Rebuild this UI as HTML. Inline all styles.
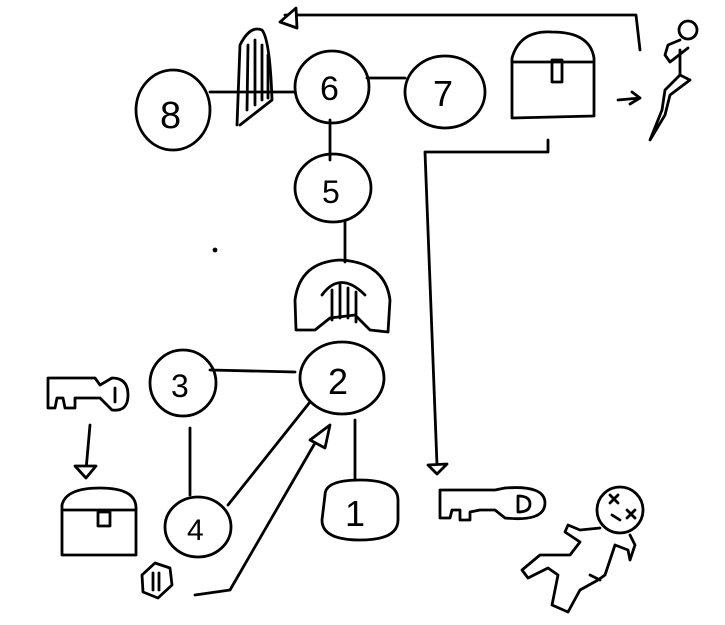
<!DOCTYPE html>
<html><head><meta charset="utf-8"><style>
html,body{margin:0;padding:0;background:#fff;width:725px;height:625px;overflow:hidden}
svg{display:block}
text{font-family:"Liberation Sans",sans-serif;fill:#000;stroke:none}
</style></head><body>
<svg width="725" height="625" viewBox="0 0 725 625" fill="none" stroke="#000" stroke-width="2.8" stroke-linecap="round" stroke-linejoin="round">
<path d="M640 50 L636 15 L285 15"/>
<path d="M296 8 L280 22 L297 28 Z" fill="#fff"/>
<ellipse cx="173" cy="110" rx="37" ry="40"/>
<text x="160" y="128" font-size="38">8</text>
<path d="M237 125 L240 45 Q250 25 262 30 Q270 40 272 100 L240 125"/>
<path d="M248 45 L247 110 M255 40 L255 105 M262 45 L262 100 M268 55 L268 98"/>
<path d="M210 92 L295 92"/>
<ellipse cx="332" cy="87" rx="37" ry="36"/>
<text x="320" y="100" font-size="34">6</text>
<path d="M367 78 L405 78"/>
<ellipse cx="445" cy="92" rx="40" ry="36"/>
<text x="433" y="106" font-size="36">7</text>
<path d="M512 118 L512 58 Q520 30 552 32 Q590 32 594 58 L594 116 Z"/>
<path d="M512 62 L594 62"/>
<rect x="552" y="60" width="10" height="22"/>
<path d="M618 100 L640 98 M632 92 L640 98 L630 104"/>
<circle cx="688" cy="30" r="9"/>
<path d="M680 40 L668 45 L665 55 L670 62 L688 48 M680 50 L680 75 L665 90 L662 110 L650 140 L665 115 L670 95 L690 80 L680 75"/>
<path d="M548 140 L548 152 L425 152 L437 465"/>
<path d="M428 465 L437 474 L447 464 Z" fill="#fff"/>
<path d="M330 120 L330 160"/>
<ellipse cx="333" cy="188" rx="38" ry="34"/>
<text x="322" y="203" font-size="32">5</text>
<path d="M345 222 L345 262"/>
<path d="M296 330 L295 300 Q300 262 340 260 Q385 262 390 300 L388 332 L370 330 L355 315 L330 318 L315 330 Z"/>
<path d="M322 295 Q340 270 365 295 M332 290 L332 320 M340 285 L340 318 M348 288 L348 318 M356 292 L356 322"/>
<ellipse cx="342" cy="378" rx="42" ry="36"/>
<text x="328" y="394" font-size="36">2</text>
<path d="M210 370 L295 372"/>
<ellipse cx="183" cy="383" rx="33" ry="33"/>
<text x="171" y="397" font-size="32">3</text>
<path d="M190 428 L190 495"/>
<ellipse cx="198" cy="527" rx="33" ry="30"/>
<text x="187" y="540" font-size="30">4</text>
<path d="M228 505 L310 402"/>
<path d="M195 595 L230 590 L315 443"/>
<path d="M310 440 L330 425 L325 448 Z" fill="#fff"/>
<path d="M142 575 L155 563 L170 568 L172 585 L158 598 L143 592 Z"/>
<path d="M153 573 L153 590 M159 573 L159 590"/>
<path d="M355 420 L355 480"/>
<path d="M325 495 Q325 480 360 480 Q398 480 398 500 L398 520 Q398 540 360 540 Q322 540 322 520 Z"/>
<text x="345" y="526" font-size="36">1</text>
<path d="M48 378 L95 378 L100 385 L112 378 Q128 378 128 395 Q128 412 112 410 L100 398 L75 398 L75 408 L65 408 L63 398 L57 398 L55 408 L48 408 Z"/>
<path d="M115 388 L115 402"/>
<path d="M90 425 L86 470"/>
<path d="M75 466 L86 478 L96 466 Z" fill="#fff"/>
<path d="M62 555 L62 505 Q66 488 100 488 Q136 488 136 508 L136 555 Z"/>
<path d="M62 510 L136 510"/>
<rect x="98" y="512" width="12" height="14"/>
<path d="M440 490 L495 490 L505 488 Q545 485 545 503 Q545 522 505 518 L495 510 L480 510 L470 512 L470 520 L460 520 L460 510 L452 510 L450 518 L440 518 Z"/>
<path d="M518 496 L518 512 Q530 512 530 504 Q530 496 518 496"/>
<circle cx="620" cy="510" r="23"/>
<path d="M610 495 L618 503 M618 495 L610 503 M627 510 L635 518 M635 510 L627 518 M612 515 L620 520"/>
<path d="M600 528 L580 530 L568 525 L565 532 L580 542 L570 555 L540 555 L522 570 L528 578 L548 568 L558 575 L552 605 L568 612 L580 590 L598 580 L605 575 L615 545 L628 550 L630 560 L635 545 L630 535"/>
<path d="M590 575 L600 580"/>
<circle cx="215" cy="250" r="1" fill="#000"/>
</svg>
</body></html>
